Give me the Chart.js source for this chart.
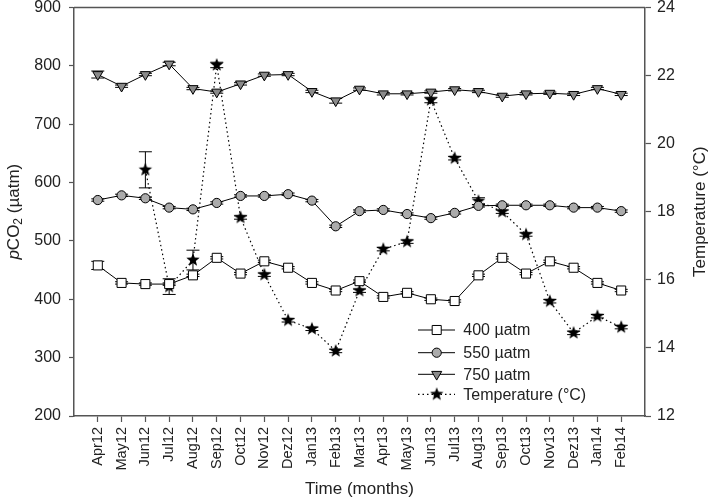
<!DOCTYPE html>
<html>
<head>
<meta charset="utf-8">
<script src="https://cdn.jsdelivr.net/npm/chart.js@4/dist/chart.umd.min.js"></script>
<style>
  html, body { margin: 0; padding: 0; background: #fff; }
  #wrap { width: 709px; height: 500px; }
</style>
</head>
<body>
<div id="wrap"><canvas id="co2Chart" width="709" height="500"></canvas></div>
<script>
// Datos
const months = ['Apr12','May12','Jun12','Jul12','Aug12','Sep12','Oct12','Nov12','Dez12','Jan13','Feb13','Mar13',
                'Apr13','May13','Jun13','Jul13','Aug13','Sep13','Oct13','Nov13','Dez13','Jan14','Feb14'];
const co2_400 = [458, 428, 426, 426, 441, 471, 444, 465, 454, 428, 415, 431, 404, 411, 400, 397, 441, 471, 444, 465, 454, 428, 415];
const co2_550 = [570, 578, 573, 557, 554, 565, 577, 577, 580, 569, 525, 551, 553, 546, 539, 548, 560, 561, 561, 561, 557, 557, 551];
const co2_750 = [785, 765, 785, 803, 761, 755, 769, 784, 785, 756, 740, 760, 752, 752, 755, 759, 756, 748, 752, 753, 751, 761, 751];
const temperature = [null, null, 19.23, 15.80, 16.58, 22.31, 17.83, 16.15, 14.81, 14.56, 13.91, 15.68,
                     16.90, 17.12, 21.28, 19.57, 18.31, 18.00, 17.33, 15.37, 14.44, 14.93, 14.61];
const err_400 = [7, 2, 2, 2, 2, 2, 2, 2, 2, 2, 2, 2, 2, 2, 2, 2, 2, 2, 2, 2, 2, 2, 2];
const err_550 = [2, 2, 2, 2, 2, 2, 2, 2, 2, 2, 2, 2, 2, 2, 2, 2, 2, 2, 2, 2, 2, 2, 2];
const err_750 = [6, 2, 2, 3, 2, 2, 2, 2, 2, 2, 4, 2, 2, 2, 2, 2, 2, 2, 2, 2, 2, 2, 2];
const err_temp = [null, null, 0.53, 0.23, 0.29, 0.08, 0.05, 0.05, 0.05, 0.05, 0.05, 0.05,
                  0.05, 0.05, 0.08, 0.05, 0.1, 0.05, 0.05, 0.05, 0.05, 0.05, 0.05];

const FONT = "'Liberation Sans', Arial, sans-serif";
const AXIS_COLOR = '#555';

// estrella rellena para la temperatura
function makeStar(r) {
    const c = document.createElement('canvas');
    const s = Math.ceil(r * 2 + 2);
    c.width = s; c.height = s;
    const g = c.getContext('2d');
    g.fillStyle = '#000';
    g.beginPath();
    for (let i = 0; i < 10; i++) {
        const rad = i % 2 === 0 ? r : r * 0.42;
        const a = -Math.PI / 2 + i * Math.PI / 5;
        const px = s / 2 + rad * Math.cos(a), py = s / 2 + rad * Math.sin(a);
        if (i === 0) g.moveTo(px, py); else g.lineTo(px, py);
    }
    g.closePath();
    g.fill();
    return c;
}
const star = makeStar(7);

const toXY = arr => arr.map((v, i) => ({ x: i, y: v }));

const datasets = [
    { label: '400 µatm', data: toXY(co2_400), errors: err_400, yAxisID: 'y',
      borderColor: '#000', borderWidth: 1, pointStyle: 'rect', pointRadius: 6.4,
      pointBackgroundColor: '#fff', pointBorderColor: '#000', pointBorderWidth: 1 },
    { label: '550 µatm', data: toXY(co2_550), errors: err_550, yAxisID: 'y',
      borderColor: '#000', borderWidth: 1, pointStyle: 'circle', pointRadius: 4.6,
      pointBackgroundColor: '#ababab', pointBorderColor: '#000', pointBorderWidth: 1 },
    { label: '750 µatm', data: toXY(co2_750), errors: err_750, yAxisID: 'y',
      borderColor: '#000', borderWidth: 1, pointStyle: 'triangle', pointRotation: 180, pointRadius: 5.8,
      pointBackgroundColor: '#8a8a8a', pointBorderColor: '#000', pointBorderWidth: 1 },
    { label: 'Temperature (°C)', data: toXY(temperature), errors: err_temp, yAxisID: 'y1',
      borderColor: '#000', borderWidth: 1.2, borderDash: [1.5, 3], pointStyle: star, spanGaps: true,
      pointRadius: 6, showLine: true }
];

// barras de error, marco, leyenda y titulos
const extras = {
    id: 'extras',
    beforeDatasetsDraw(chart) {
        const ctx = chart.ctx;
        ctx.save();
        ctx.strokeStyle = '#000';
        ctx.lineWidth = 1;
        chart.data.datasets.forEach(ds => {
            const ys = chart.scales[ds.yAxisID];
            ds.data.forEach((p, i) => {
                const e = ds.errors[i];
                if (p.y == null || e == null) return;
                const x = chart.scales.x.getPixelForValue(p.x);
                const y0 = ys.getPixelForValue(p.y - e), y1 = ys.getPixelForValue(p.y + e);
                ctx.beginPath();
                ctx.moveTo(x, y0); ctx.lineTo(x, y1);
                ctx.moveTo(x - 6.5, y0); ctx.lineTo(x + 6.5, y0);
                ctx.moveTo(x - 6.5, y1); ctx.lineTo(x + 6.5, y1);
                ctx.stroke();
            });
        });
        ctx.restore();
    },
    afterDraw(chart) {
        const ctx = chart.ctx;
        const a = chart.chartArea;
        ctx.save();
        // marco superior
        ctx.strokeStyle = AXIS_COLOR;
        ctx.lineWidth = 1.5;
        ctx.beginPath();
        ctx.moveTo(a.left, a.top); ctx.lineTo(a.right, a.top);
        ctx.stroke();

        // leyenda
        const rows = [330, 352.7, 374.3, 394.3];
        ctx.font = '16px ' + FONT;
        ctx.textBaseline = 'middle';
        ctx.fillStyle = '#222';
        chart.data.datasets.forEach((ds, i) => {
            const y = rows[i];
            ctx.strokeStyle = '#000';
            ctx.lineWidth = ds.borderWidth;
            ctx.setLineDash(ds.borderDash || []);
            ctx.beginPath();
            ctx.moveTo(418, y); ctx.lineTo(455, y);
            ctx.stroke();
            ctx.setLineDash([]);
            ctx.fillStyle = ds.pointBackgroundColor || '#000';
            ctx.strokeStyle = '#000';
            ctx.lineWidth = 1;
            Chart.helpers.drawPoint(ctx, {
                pointStyle: ds.pointStyle, rotation: ds.pointRotation || 0,
                radius: ds.pointRadius, borderWidth: 1
            }, 436.7, y);
            ctx.fillStyle = '#222';
            ctx.fillText(ds.label, 463.3, y + 1);
        });

        // titulos de ejes
        ctx.fillStyle = '#222';
        ctx.textBaseline = 'middle';
        ctx.textAlign = 'center';
        ctx.font = '17px ' + FONT;
        ctx.fillText('Time (months)', (a.left + a.right) / 2, 489);

        ctx.save();
        ctx.translate(700, (a.top + a.bottom) / 2);
        ctx.rotate(-Math.PI / 2);
        ctx.fillText('Temperature (°C)', 0, 0);
        ctx.restore();

        // pCO2 (µatm) con p en cursiva y subindice
        const parts = [
            { t: 'p', f: 'italic 17px ' + FONT, dy: 0 },
            { t: 'CO', f: '17px ' + FONT, dy: 0 },
            { t: '2', f: '12px ' + FONT, dy: 5 },
            { t: ' (µatm)', f: '17px ' + FONT, dy: 0 }
        ];
        let total = 0;
        parts.forEach(p => { ctx.font = p.f; p.w = ctx.measureText(p.t).width; total += p.w; });
        ctx.save();
        ctx.translate(14, (a.top + a.bottom) / 2);
        ctx.rotate(-Math.PI / 2);
        ctx.textAlign = 'left';
        let cx = -total / 2;
        parts.forEach(p => { ctx.font = p.f; ctx.fillText(p.t, cx, p.dy); cx += p.w; });
        ctx.restore();

        ctx.restore();
    }
};

const noPad = s => { s.paddingTop = 0; s.paddingBottom = 0; s.paddingLeft = 0; s.paddingRight = 0; };

const ctx = document.getElementById('co2Chart').getContext('2d');
new Chart(ctx, {
    type: 'line',
    data: { datasets: datasets },
    options: {
        responsive: false,
        animation: false,
        layout: { padding: { top: 6, left: 0, right: 0, bottom: 0 } },
        plugins: { legend: { display: false }, tooltip: { enabled: false } },
        scales: {
            x: {
                type: 'linear', min: -1, max: 23,
                afterBuildTicks: s => { s.ticks = s.ticks.filter(t => t.value >= 0 && t.value <= 22); },
                afterFit: s => { s.height = 84; noPad(s); },
                ticks: {
                    stepSize: 1, autoSkip: false, minRotation: 90, maxRotation: 90,
                    callback: v => months[v], color: '#222', padding: 5,
                    font: { family: FONT, size: 14.5 }
                },
                grid: { drawOnChartArea: false, tickLength: 6, color: AXIS_COLOR, tickWidth: 1.2 },
                border: { color: AXIS_COLOR, width: 1.5 }
            },
            y: {
                position: 'left', min: 200, max: 900,
                afterFit: s => { s.width = 74; noPad(s); },
                ticks: { stepSize: 100, color: '#222', padding: 8, font: { family: FONT, size: 16 } },
                grid: { drawOnChartArea: false, tickLength: 5, color: AXIS_COLOR, tickWidth: 1.2 },
                border: { color: AXIS_COLOR, width: 1.5 }
            },
            y1: {
                position: 'right', min: 12, max: 24,
                afterFit: s => { s.width = 64; noPad(s); },
                ticks: { stepSize: 2, color: '#222', padding: 6, font: { family: FONT, size: 16 } },
                grid: { drawOnChartArea: false, tickLength: 6, color: AXIS_COLOR, tickWidth: 1.2 },
                border: { color: AXIS_COLOR, width: 1.5 }
            }
        }
    },
    plugins: [extras]
});
</script>
</body>
</html>
